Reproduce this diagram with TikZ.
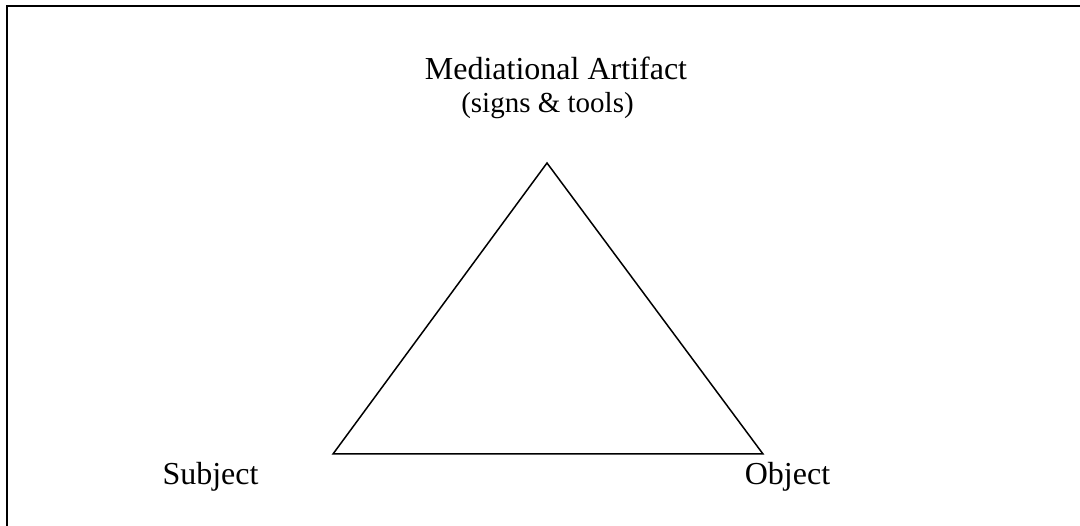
\documentclass[tikz,border=0pt]{standalone}
\usepackage{fontspec}
\setmainfont{Liberation Serif}
\begin{document}
\begin{tikzpicture}[x=1pt,y=-1pt,
  label/.style={inner sep=0pt,anchor=base,font=\fontsize{32}{36}\selectfont},
  sublabel/.style={inner sep=0pt,anchor=base,font=\fontsize{29}{33}\selectfont},
  edge/.style={line width=1.5pt,line join=miter}]
\useasboundingbox (0,0) rectangle (1080,526);
% outer frame (runs off the right and bottom)
\draw[line width=2pt] (7,526) -- (7,6) -- (1080,6);
% triangle corners
\coordinate (apex) at (547,163);
\coordinate (subj) at (333,454);
\coordinate (obj) at (763,454);
\draw[edge] (apex) -- (obj) -- (subj) -- cycle;
% labels
\node[label] (med) at (556,80) {Mediational Artifact};
\node[sublabel] (signs) at (547.5,113) {(signs \& tools)};
\node[label] (subject) at (210.5,485) {Subject};
\node[label] (object) at (787.5,485) {Object};
\end{tikzpicture}
\end{document}
